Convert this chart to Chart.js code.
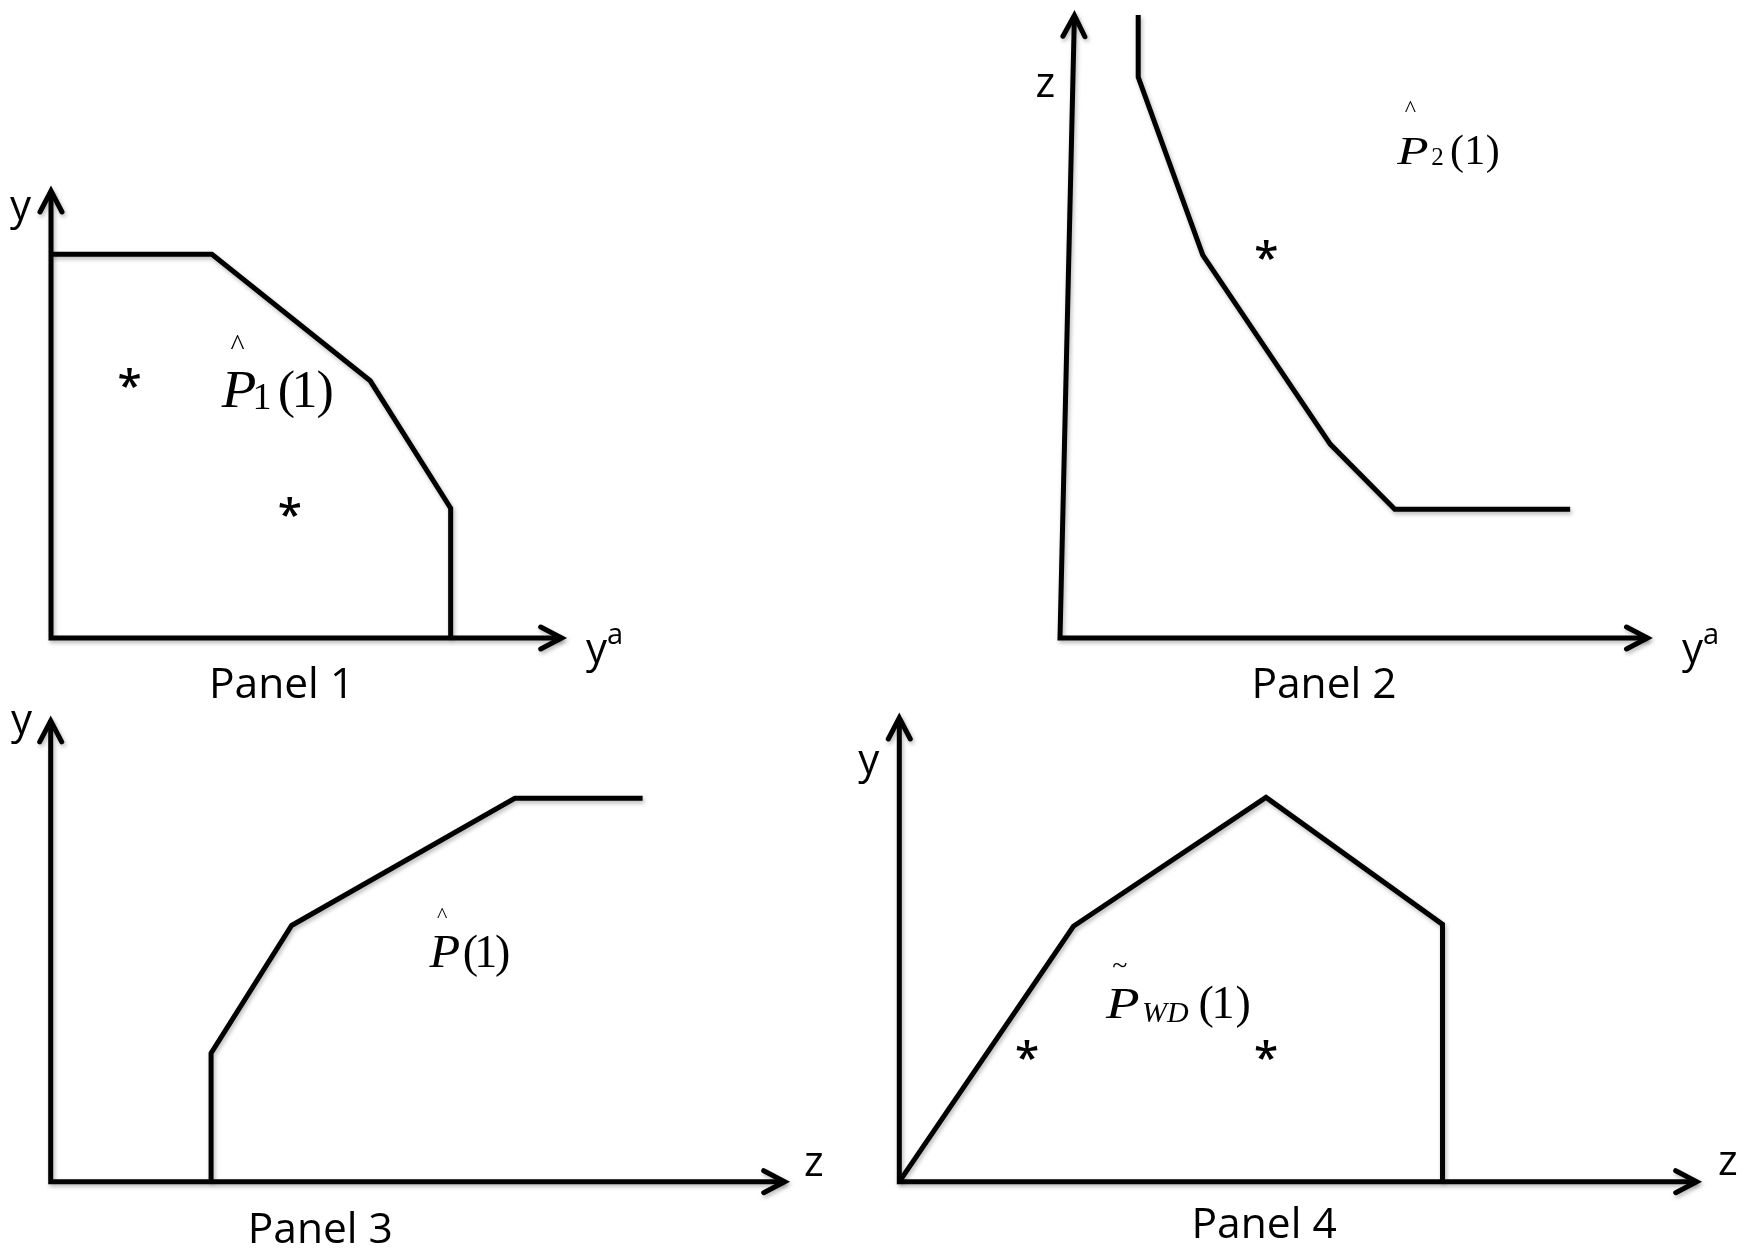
<!DOCTYPE html>
<html>
<head>
<meta charset="utf-8">
<script src="https://cdn.jsdelivr.net/npm/chart.js@4.4.1/dist/chart.umd.min.js"></script>
<style>
    html, body { margin: 0; padding: 0; background: #fff; }
    #stage { position: relative; width: 1744px; height: 1251px; overflow: hidden; }
    #stage canvas { position: absolute; }
</style>
</head>
<body>
<div id="stage">
    <canvas id="panel1" width="836" height="705" style="left:0;top:0"></canvas>
    <canvas id="panel2" width="908" height="705" style="left:836px;top:0"></canvas>
    <canvas id="panel3" width="836" height="546" style="left:0;top:705px"></canvas>
    <canvas id="panel4" width="908" height="546" style="left:836px;top:705px"></canvas>
</div>
<script>
// 数据 - 每个面板的前沿折线 (坐标轴单位 0..10)
const p1FrontX = [0, 3.12, 6.19, 7.75, 7.75];
const p1FrontY = [8.49, 8.49, 5.69, 2.87, 0];
const p1StarX = [1.52, 4.63];
const p1StarY = [5.75, 2.90];

const p2FrontX = [1.32, 1.32, 2.41, 4.56, 5.65, 8.61];
const p2FrontY = [9.93, 8.94, 6.10, 3.09, 2.05, 2.05];
const p2StarX = [3.48];
const p2StarY = [6.18];

const p3FrontX = [2.17, 2.17, 3.26, 6.28, 8.01];
const p3FrontY = [0, 2.76, 5.50, 8.23, 8.23];

const p4FrontX = [0, 2.17, 4.57, 6.77, 6.77];
const p4FrontY = [0, 5.45, 8.20, 5.49, 0];
const p4StarX = [1.59, 4.57];
const p4StarY = [2.82, 2.82];

// 标签
const panelTitles = ['Panel 1', 'Panel 2', 'Panel 3', 'Panel 4'];
const yAxisNames = ['y', 'z', 'y', 'y'];
const xAxisNames = ['y', 'y', 'z', 'z'];
const xAxisSups = ['a', 'a', '', ''];

// 样式
const INK = '#000';
const LINE_W = 5;
const HEAD_LEN = 21;
const HEAD_HALF = 11;
const APEX_INSET = 5;
const SANS = '"Open Sans", "Liberation Sans", sans-serif';
const SERIF = '"Liberation Serif", "Times New Roman", serif';
const NAME_FONT = '42px ' + SANS;
const TITLE_FONT = '42.5px ' + SANS;
const STAR_FONT = '600 44px ' + SANS;

function zip(xs, ys) {
    return xs.map((x, i) => ({ x: x, y: ys[i] }));
}

// 按墨迹位置绘制文字 (sx: 横向拉伸)
function inkText(ctx, text, font, x, y, hAlign, vAlign, sx) {
    sx = sx || 1;
    ctx.font = font;
    ctx.textAlign = 'left';
    ctx.textBaseline = 'alphabetic';
    const m = ctx.measureText(text);
    let dx = 0, dy = 0;
    if (hAlign === 'center') dx = -(m.actualBoundingBoxRight - m.actualBoundingBoxLeft) / 2 * sx;
    else dx = m.actualBoundingBoxLeft * sx;
    if (vAlign === 'mid') dy = (m.actualBoundingBoxAscent - m.actualBoundingBoxDescent) / 2;
    ctx.save();
    ctx.translate(x + dx, y + dy);
    ctx.scale(sx, 1);
    ctx.fillText(text, 0, 0);
    ctx.restore();
}

function arrowHead(ctx, x, y, ux, uy) {
    const px = -uy, py = ux;
    ctx.save();
    ctx.lineCap = 'round';
    ctx.lineJoin = 'miter';
    ctx.beginPath();
    ctx.moveTo(x - ux * HEAD_LEN + px * HEAD_HALF, y - uy * HEAD_LEN + py * HEAD_HALF);
    ctx.lineTo(x, y);
    ctx.lineTo(x - ux * HEAD_LEN - px * HEAD_HALF, y - uy * HEAD_LEN - py * HEAD_HALF);
    ctx.stroke();
    ctx.restore();
}

// 坐标轴、箭头、文字
const sketchPlugin = {
    id: 'sketch',
    beforeDatasetsDraw(chart, args, opts) {
        const ctx = chart.ctx;
        const xs = chart.scales.x, ys = chart.scales.y;
        const ox = xs.getPixelForValue(0), oy = ys.getPixelForValue(0);
        const topX = xs.getPixelForValue(opts.lean || 0), topY = ys.getPixelForValue(ys.max);
        const tipX = xs.getPixelForValue(xs.max);

        ctx.save();
        ctx.shadowColor = 'rgba(0, 0, 0, 0.28)';
        ctx.shadowBlur = 4;
        ctx.shadowOffsetX = 1.5;
        ctx.shadowOffsetY = 2.5;
        ctx.strokeStyle = INK;
        ctx.lineWidth = LINE_W;

        let vx = topX - ox, vy = topY - oy;
        const vl = Math.hypot(vx, vy);
        vx /= vl; vy /= vl;
        const yEndX = topX - vx * APEX_INSET, yEndY = topY - vy * APEX_INSET;
        const xEnd = tipX - APEX_INSET;

        ctx.lineJoin = 'miter';
        ctx.lineCap = 'butt';
        ctx.beginPath();
        ctx.moveTo(yEndX, yEndY);
        ctx.lineTo(ox, oy);
        ctx.lineTo(xEnd, oy);
        ctx.stroke();
        arrowHead(ctx, yEndX, yEndY, vx, vy);
        arrowHead(ctx, xEnd, oy, 1, 0);
        // 阴影保留到数据集画完
    },
    afterDatasetsDraw(chart, args, opts) {
        const ctx = chart.ctx;
        ctx.restore();

        const xs = chart.scales.x, ys = chart.scales.y;
        const oy = ys.getPixelForValue(0);
        const topX = xs.getPixelForValue(opts.lean || 0), topY = ys.getPixelForValue(ys.max);
        const tipX = xs.getPixelForValue(xs.max);

        ctx.save();
        ctx.fillStyle = INK;

        // 星号
        chart.data.datasets.forEach((ds, i) => {
            if (!ds.asterisk) return;
            chart.getDatasetMeta(i).data.forEach(pt => {
                inkText(ctx, '*', STAR_FONT, pt.x, pt.y, 'center', 'mid');
            });
        });

        // 轴名
        const yn = opts.yName;
        inkText(ctx, yn.text, NAME_FONT, topX + yn.dx, topY + yn.dy, 'center', 'base');
        const xn = opts.xName;
        inkText(ctx, xn.text, NAME_FONT, tipX + xn.dx, oy + xn.dy, 'left', 'base');
        if (xn.sup) {
            inkText(ctx, xn.sup, '29px ' + SANS, tipX + xn.supDx, oy + xn.supDy, 'left', 'base');
        }

        // 面板标题
        const t = opts.title;
        inkText(ctx, t.text, TITLE_FONT, xs.getPixelForValue(t.x), oy + t.dy, 'center', 'base');

        // 公式标签
        const lab = opts.label;
        const ax = xs.getPixelForValue(lab.x), ay = ys.getPixelForValue(lab.y);
        lab.parts.forEach(p => {
            inkText(ctx, p.t, p.f, ax + p.dx, ay + p.dy, p.h, p.v, p.sx);
        });
        ctx.restore();
    }
};

function buildPanel(canvasId, cfg) {
    const datasets = [{
        data: zip(cfg.fx, cfg.fy),
        showLine: true,
        borderColor: INK,
        borderWidth: LINE_W,
        borderJoinStyle: 'miter',
        borderCapStyle: 'butt',
        pointRadius: 0,
        clip: false
    }];
    if (cfg.sx) {
        datasets.push({ data: zip(cfg.sx, cfg.sy), pointRadius: 0, showLine: false, asterisk: true, clip: false });
    }
    return new Chart(document.getElementById(canvasId), {
        type: 'scatter',
        data: { datasets: datasets },
        options: {
            responsive: false,
            animation: false,
            events: [],
            layout: { padding: cfg.pad },
            scales: {
                x: { type: 'linear', min: 0, max: 10, display: false },
                y: { type: 'linear', min: 0, max: 10, display: false }
            },
            plugins: {
                legend: { display: false },
                tooltip: { enabled: false },
                sketch: cfg.sketch
            }
        },
        plugins: [sketchPlugin]
    });
}

function serif(size, italic) {
    return (italic ? 'italic ' : '') + size + 'px ' + SERIF;
}

function parenParts(size, c1, c2, c3) {
    return [
        { t: '(', f: serif(size), dx: c1, dy: 0, h: 'center', v: 'base' },
        { t: '1', f: serif(size), dx: c2, dy: 0, h: 'center', v: 'base' },
        { t: ')', f: serif(size), dx: c3, dy: 0, h: 'center', v: 'base' }
    ];
}

// 页面初始化
document.addEventListener('DOMContentLoaded', function() {
    buildPanel('panel1', {
        fx: p1FrontX, fy: p1FrontY, sx: p1StarX, sy: p1StarY,
        pad: { left: 51, top: 186, right: 269.3, bottom: 67 },
        sketch: {
            yName: { text: yAxisNames[0], dx: -30, dy: 34 },
            xName: { text: xAxisNames[0], dx: 19.3, dy: 25, sup: xAxisSups[0], supDx: 41.3, supDy: 6 },
            title: { text: panelTitles[0], x: 4.42, dy: 60.3 },
            label: { x: 3.29, y: 5.10, parts: [
                { t: 'P', f: serif(52, true), dx: 0, dy: 0, h: 'left', v: 'base', sx: 1.09 },
                { t: '1', f: serif(38), dx: 41.8, dy: 2, h: 'center', v: 'base' },
                ...parenParts(52, 66, 84.3, 104.3),
                { t: '^', f: serif(30), dx: 16.8, dy: -65.3, h: 'center', v: 'mid' }
            ] }
        }
    });

    buildPanel('panel2', {
        fx: p2FrontX, fy: p2FrontY, sx: p2StarX, sy: p2StarY,
        pad: { left: 224, top: 10.5, right: 91.5, bottom: 67 },
        sketch: {
            lean: 0.245,
            yName: { text: yAxisNames[1], dx: -29, dy: 86.5 },
            xName: { text: xAxisNames[1], dx: 29.5, dy: 25, sup: xAxisSups[1], supDx: 51.5, supDy: 6 },
            title: { text: panelTitles[1], x: 4.47, dy: 59.7 },
            label: { x: 5.67, y: 7.56, parts: [
                { t: 'P', f: serif(41, true), dx: 0, dy: 0, h: 'left', v: 'base', sx: 1.25 },
                { t: '2', f: serif(25), dx: 41.8, dy: 1.7, h: 'center', v: 'base' },
                ...parenParts(42, 61, 79.3, 96.8),
                { t: '^', f: serif(24), dx: 14.3, dy: -57.5, h: 'center', v: 'mid' }
            ] }
        }
    });

    buildPanel('panel3', {
        fx: p3FrontX, fy: p3FrontY,
        pad: { left: 50.7, top: 10.8, right: 46.3, bottom: 69.3 },
        sketch: {
            yName: { text: yAxisNames[2], dx: -28.7, dy: 17.7 },
            xName: { text: xAxisNames[2], dx: 15.3, dy: -5.5 },
            title: { text: panelTitles[2], x: 3.66, dy: 61 },
            label: { x: 5.11, y: 4.60, parts: [
                { t: 'P', f: serif(46, true), dx: 0, dy: 0, h: 'left', v: 'base', sx: 1.09 },
                ...parenParts(46, 42.5, 58.4, 74.2),
                { t: '^', f: serif(22), dx: 14.2, dy: -54, h: 'center', v: 'mid' }
            ] }
        }
    });

    buildPanel('panel4', {
        fx: p4FrontX, fy: p4FrontY, sx: p4StarX, sy: p4StarY,
        pad: { left: 63.3, top: 8, right: 42.3, bottom: 69.3 },
        sketch: {
            yName: { text: yAxisNames[3], dx: -30, dy: 61 },
            xName: { text: xAxisNames[3], dx: 17.3, dy: -6.7 },
            title: { text: panelTitles[3], x: 4.57, dy: 56.6 },
            label: { x: 2.56, y: 3.49, parts: [
                { t: 'P', f: serif(44, true), dx: 0, dy: 0, h: 'left', v: 'base', sx: 1.25 },
                { t: 'WD', f: serif(30, true), dx: 38.3, dy: 3.4, h: 'left', v: 'base' },
                ...parenParts(46, 101.7, 119.2, 138.3),
                { t: '~', f: serif(28), dx: 15, dy: -53.3, h: 'center', v: 'mid' }
            ] }
        }
    });
});
</script>
</body>
</html>
